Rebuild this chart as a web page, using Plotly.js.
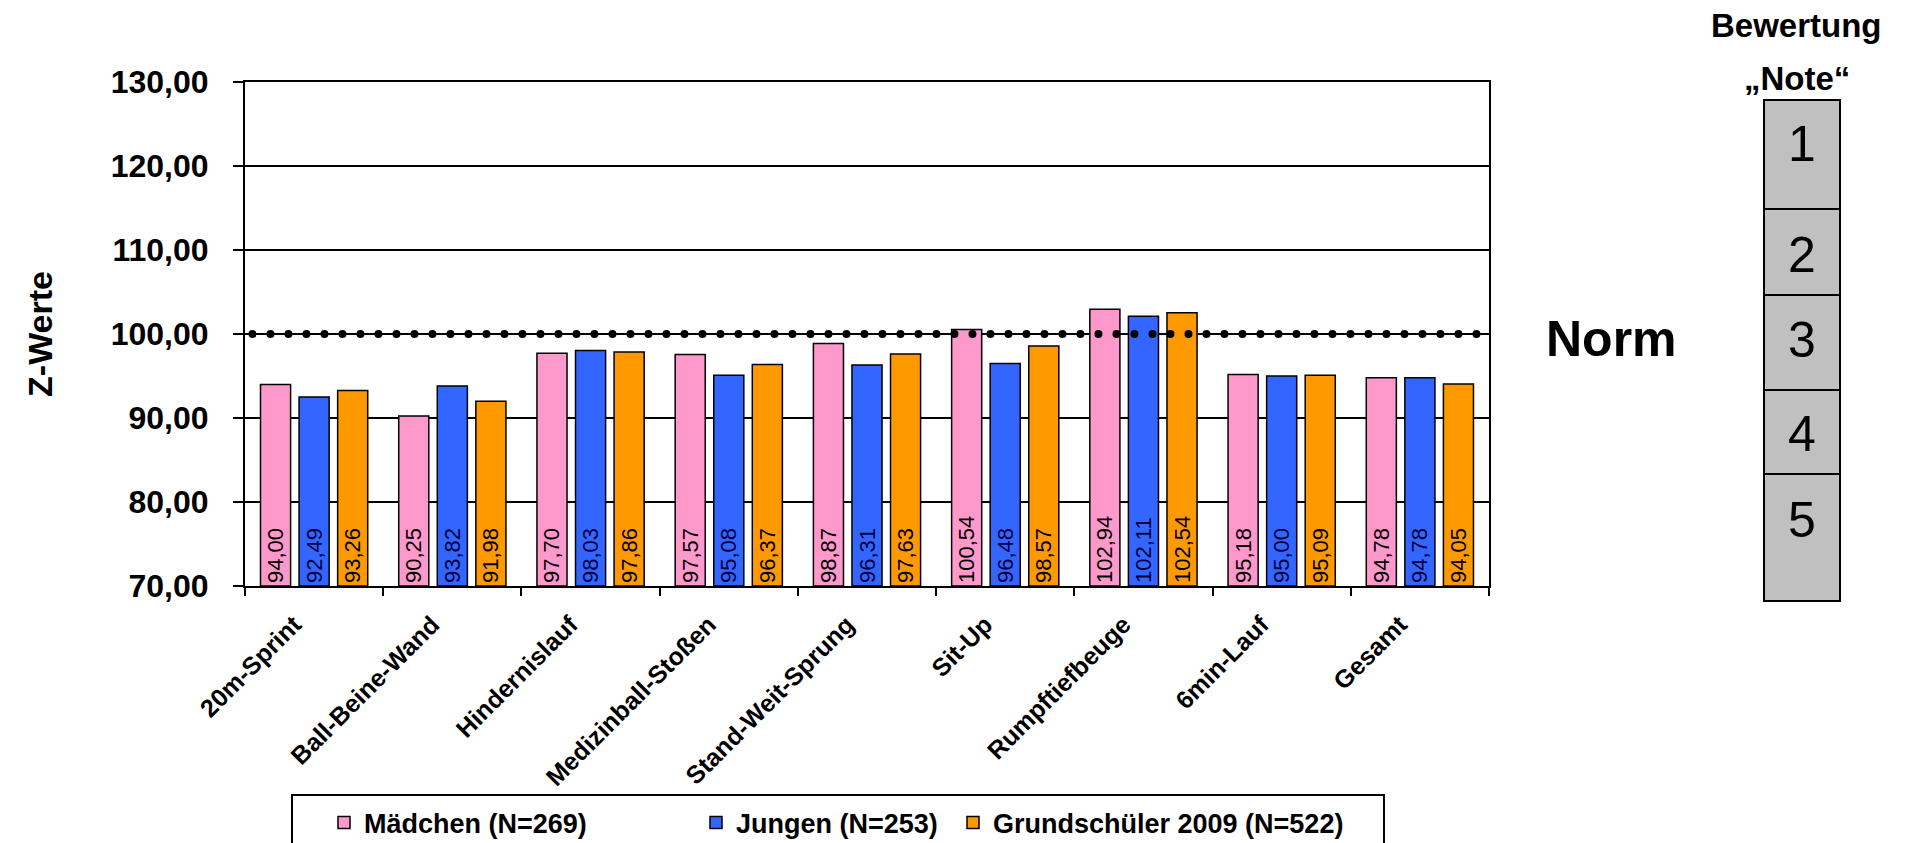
<!DOCTYPE html>
<html><head><meta charset="utf-8">
<script src="https://cdn.plot.ly/plotly-3.0.1.min.js"></script>
<style>
html,body{margin:0;padding:0;background:#fff;}
#chart{width:1910px;height:843px;}
.shapelayer path{stroke-linecap:round;}
</style></head><body><div id="chart"></div>
<script>
// ---- data ----
const categories = ['20m-Sprint','Ball-Beine-Wand','Hindernislauf','Medizinball-Stoßen','Stand-Weit-Sprung','Sit-Up','Rumpftiefbeuge','6min-Lauf','Gesamt'];
const maedchen      = [94.00, 90.25, 97.70, 97.57, 98.87, 100.54, 102.94, 95.18, 94.78];
const jungen        = [92.49, 93.82, 98.03, 95.08, 96.31, 96.48, 102.11, 95.00, 94.78];
const grundschueler = [93.26, 91.98, 97.86, 96.37, 97.63, 98.57, 102.54, 95.09, 94.05];
const seriesNames = ['Mädchen (N=269)', 'Jungen (N=253)', 'Grundschüler 2009 (N=522)'];
const yTickValues = [70, 80, 90, 100, 110, 120, 130];
const normValue = 100;
const noteLabels = ['1', '2', '3', '4', '5'];
const axisFloor = 70;

// ---- layout helpers (pixel -> paper) ----
const W = 1910, H = 843;
const M = {l: 245, r: 421, t: 82, b: 257, autoexpand: false};
const PW = W - M.l - M.r, PH = H - M.t - M.b;
const fx = px => (px - M.l) / PW;
const fy = py => (H - M.b - py) / PH;
const FONT = 'Liberation Sans, Arial, Helvetica, sans-serif';

const colors = ['#FF99CC', '#3366FF', '#FF9900'];
const textColors = ['#000000', '#000040', '#000000'];
const seriesData = [maedchen, jungen, grundschueler];
const legendIds = ['legend', 'legend2', 'legend3'];

const traces = seriesData.map((vals, i) => ({
  type: 'bar',
  name: seriesNames[i],
  x: categories,
  base: axisFloor,
  y: vals.map(v => v - axisFloor),
  customdata: vals,
  texttemplate: '%{customdata:.2f}',
  textposition: 'inside',
  insidetextanchor: 'start',
  textangle: -90,
  constraintext: 'none',
  textfont: {family: FONT, size: 22, color: textColors[i]},
  marker: {color: colors[i], line: {color: '#000000', width: 1.5}},
  legend: legendIds[i],
  hovertemplate: '%{x}: %{customdata:.2f}<extra>' + seriesNames[i] + '</extra>'
}));

// legend item left positions (px)
const legendX = [324, 696, 953];
const legendCommon = {
  orientation: 'h', yanchor: 'middle', xanchor: 'left', y: fy(823),
  bgcolor: 'rgba(0,0,0,0)', borderwidth: 0,
  font: {family: FONT, size: 27, weight: 'bold', color: '#000'}
};

// grade boxes (px)
const boxX0 = 1764, boxX1 = 1840;
const boxEdges = [100, 209, 295, 390, 474, 601];
const digitY = [144, 255, 340, 434, 520];

const shapes = [];
// norm dotted line
shapes.push({type: 'line', xref: 'paper', yref: 'y', x0: 0.006, x1: 0.998, y0: normValue, y1: normValue,
  line: {color: '#000', width: 8, dash: '0px,18px'}, layer: 'above'});
// grade boxes
for (let i = 0; i < noteLabels.length; i++) {
  shapes.push({type: 'rect', xref: 'paper', yref: 'paper',
    x0: fx(boxX0), x1: fx(boxX1), y0: fy(boxEdges[i + 1]), y1: fy(boxEdges[i]),
    fillcolor: '#C0C0C0', line: {color: '#000', width: 2}, layer: 'above'});
}
// legend frame
shapes.push({type: 'rect', xref: 'paper', yref: 'paper',
  x0: fx(292), x1: fx(1384), y0: fy(860), y1: fy(795),
  fillcolor: 'rgba(0,0,0,0)', line: {color: '#000', width: 2}, layer: 'above'});

const annotations = [];
annotations.push({text: 'Norm', xref: 'paper', yref: 'paper', x: fx(1611), y: fy(339),
  xanchor: 'center', yanchor: 'middle', showarrow: false,
  font: {family: FONT, size: 50, weight: 'bold', color: '#000'}});
annotations.push({text: 'Bewertung', xref: 'paper', yref: 'paper', x: fx(1796), y: fy(26),
  xanchor: 'center', yanchor: 'middle', showarrow: false,
  font: {family: FONT, size: 33, weight: 'bold', color: '#000'}});
annotations.push({text: '„Note“', xref: 'paper', yref: 'paper', x: fx(1797), y: fy(78),
  xanchor: 'center', yanchor: 'middle', showarrow: false,
  font: {family: FONT, size: 33, weight: 'bold', color: '#000'}});
noteLabels.forEach((t, i) => annotations.push({text: t, xref: 'paper', yref: 'paper',
  x: fx((boxX0 + boxX1) / 2), y: fy(digitY[i]), xanchor: 'center', yanchor: 'middle', showarrow: false,
  font: {family: FONT, size: 50, color: '#000'}}));

const layout = {
  width: W, height: H,
  margin: M,
  paper_bgcolor: '#fff', plot_bgcolor: '#fff',
  separators: ',.',
  barmode: 'group', bargap: 0.163, bargroupgap: 0.22,
  font: {family: FONT, color: '#000'},
  xaxis: {
    type: 'category', tickson: 'boundaries', ticks: 'outside', ticklen: 8, tickwidth: 1.5, tickcolor: '#000',
    showline: true, linecolor: '#000', linewidth: 2, mirror: true, showgrid: false, automargin: false,
    tickangle: -45, ticklabelshift: -20, ticklabelstandoff: 12,
    tickfont: {family: FONT, size: 25, weight: 'bold', color: '#000'}
  },
  yaxis: {
    range: [70, 130], tickvals: yTickValues, tickformat: '.2f', automargin: false,
    ticks: 'outside', ticklen: 10, tickwidth: 1.5, tickcolor: '#000', ticklabelstandoff: 18,
    showline: true, linecolor: '#000', linewidth: 2, mirror: true,
    showgrid: true, gridcolor: '#000', gridwidth: 1.5, zeroline: false,
    tickfont: {family: FONT, size: 32, weight: 'bold', color: '#000'},
    title: {text: 'Z-Werte', standoff: 48, font: {family: FONT, size: 34, weight: 'bold', color: '#000'}}
  },
  legend: Object.assign({}, legendCommon, {x: fx(legendX[0])}),
  legend2: Object.assign({}, legendCommon, {x: fx(legendX[1])}),
  legend3: Object.assign({}, legendCommon, {x: fx(legendX[2])}),
  shapes: shapes,
  annotations: annotations,
  showlegend: true
};

Plotly.newPlot('chart', traces, layout, {displayModeBar: false, responsive: false});
</script></body></html>
